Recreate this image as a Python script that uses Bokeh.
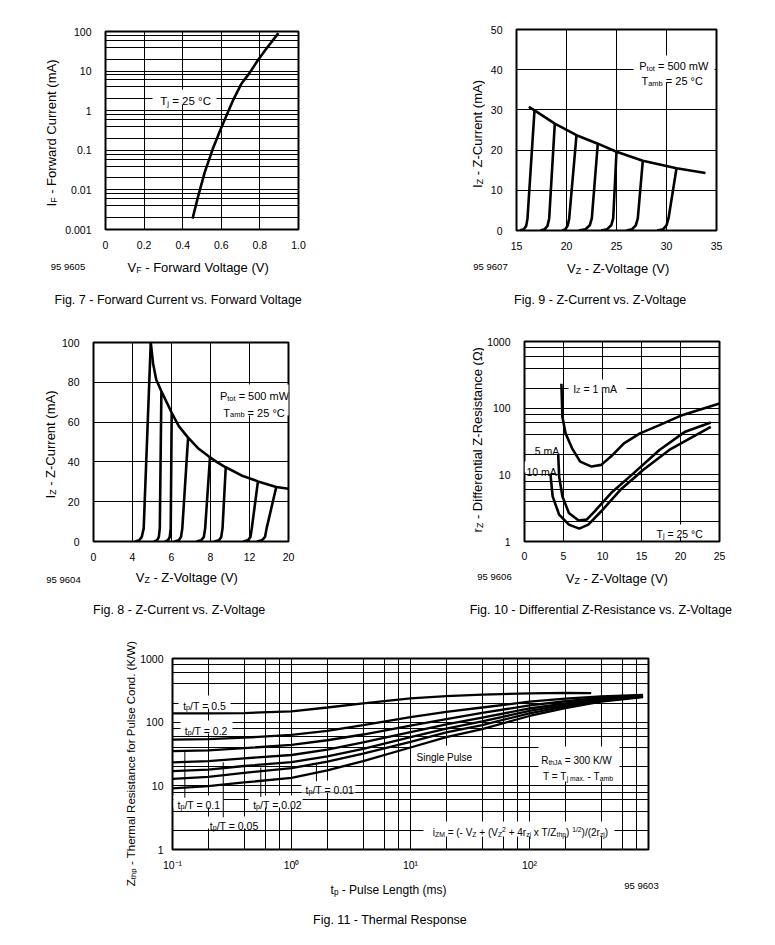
import math
import numpy as np
from bokeh.plotting import figure
from bokeh.models import Range1d, FixedTicker, Label, BoxAnnotation
from bokeh.layouts import column, row
from bokeh.embed import file_html
from bokeh.resources import INLINE

FONT = "Liberation Sans"

# ---------------- data ----------------
# Fig. 7  Forward current vs forward voltage
F7_XTICKS = [0, 0.2, 0.4, 0.6, 0.8, 1.0]
F7_XLABELS = ["0", "0.2", "0.4", "0.6", "0.8", "1.0"]
F7_YTICKS = [0.001, 0.01, 0.1, 1, 10, 100]
F7_YLABELS = ["0.001", "0.01", "0.1", "1", "10", "100"]
F7_VF = [0.451, 0.481, 0.514, 0.555, 0.596, 0.662, 0.703, 0.745, 0.786, 0.827, 0.896]
F7_IF = [0.00188, 0.0072, 0.0277, 0.106, 0.335, 1.88, 4.7, 8.75, 17.8, 33.5, 91]

# Fig. 9  Z-current vs Z-voltage (15..35 V)
F9_XTICKS = [15, 20, 25, 30, 35]
F9_YTICKS = [0, 10, 20, 30, 40, 50]
F9_ENV_V = [16.23, 16.8, 18.83, 21.0, 23.13, 25.0, 27.63, 31.0, 33.9]
F9_ENV_I = [30.75, 29.9, 26.6, 23.7, 21.6, 19.6, 17.35, 15.5, 14.3]
F9_CURVES_V = [
    [15.33, 15.73, 15.97, 16.10, 16.80],
    [17.40, 17.83, 18.10, 18.27, 18.83],
    [19.57, 19.90, 20.13, 20.27, 21.00],
    [21.23, 21.90, 22.33, 22.53, 23.13],
    [23.47, 24.07, 24.47, 24.67, 25.00],
    [26.00, 26.57, 26.93, 27.13, 27.63],
    [29.07, 29.67, 30.00, 30.20, 31.00],
]
F9_CURVES_I = [
    [0, 0.33, 1.15, 3.0, 29.9],
    [0, 0.33, 1.15, 3.0, 26.6],
    [0, 0.33, 1.3, 3.0, 23.7],
    [0, 0.33, 1.3, 3.0, 21.6],
    [0, 0.33, 1.3, 3.0, 19.6],
    [0, 0.33, 1.3, 3.0, 17.35],
    [0, 0.33, 1.3, 3.0, 15.5],
]

# Fig. 8  Z-current vs Z-voltage (0..20 V, unevenly labelled axis)
F8_XTICK_V = [0, 4, 6, 8, 12, 20]
F8_YTICKS = [0, 20, 40, 60, 80, 100]
F8_ENV_V = [4.937, 5.053, 5.218, 5.482, 6.01, 6.373, 6.851, 7.36, 7.974, 8.71, 9.564, 11.18, 13.73, 17.49, 20.0]
F8_ENV_I = [100, 89.6, 81.3, 75.5, 64.7, 58.0, 52.2, 46.9, 42.3, 39.8, 37.3, 33.2, 30.2, 27.4, 26.5]
F8_CURVES_V = [
    [4.146, 4.343, 4.475, 4.574, 4.937],
    [5.102, 5.267, 5.350, 5.400, 5.482],
    [5.663, 5.828, 5.911, 5.960, 6.010],
    [6.158, 6.373, 6.488, 6.554, 6.851],
    [7.280, 7.528, 7.660, 7.726, 7.974],
    [8.376, 8.871, 9.100, 9.234, 9.564],
    [11.35, 11.84, 12.21, 12.47, 13.73],
    [13.53, 14.59, 15.18, 15.51, 17.49],
]
F8_CURVES_I = [
    [0, 0.66, 2.3, 6.6, 100],
    [0, 0.66, 2.3, 6.6, 75.5],
    [0, 0.66, 2.3, 6.6, 64.7],
    [0, 0.66, 2.3, 6.6, 52.2],
    [0, 0.66, 2.3, 6.6, 42.3],
    [0, 0.66, 2.3, 6.6, 37.3],
    [0, 0.66, 2.3, 6.6, 30.2],
    [0, 0.66, 2.3, 6.6, 27.4],
]

# Fig. 10  Differential Z-resistance vs Z-voltage
F10_XTICKS = [0, 5, 10, 15, 20, 25]
F10_YTICKS = [1, 10, 100, 1000]
F10_1MA_V = [4.73, 4.86, 5.27, 6.1, 7.14, 8.6, 9.84, 11.3, 12.75, 14.8, 17.3, 20.2, 25.0]
F10_1MA_R = [233, 74, 41.8, 25, 15.8, 13.3, 14.1, 19.9, 29.7, 41.9, 55.7, 78.6, 117.6]
F10_5MA_V = [4.32, 4.44, 4.86, 5.69, 6.94, 7.97, 9.0, 11.1, 14.0, 17.3, 20.6, 23.88]
F10_5MA_R = [20.6, 9.4, 4.75, 2.68, 2.06, 2.13, 2.84, 5.33, 10.6, 23.6, 44.4, 61]
F10_10MA_V = [3.32, 3.61, 4.44, 5.69, 7.02, 8.18, 9.84, 12.3, 15.24, 18.56, 23.88]
F10_10MA_R = [10.4, 4.75, 2.53, 1.79, 1.56, 1.79, 2.84, 5.97, 11.9, 23.6, 52.6]

# Fig. 11  Thermal response
F11_XTICKS = [0.1, 1, 10, 100]
F11_XLABELS = ["10\u207b\u00b9", "10\u2070", "10\u00b9", "10\u00b2"]
F11_YTICKS = [1, 10, 100, 1000]
F11_T05 = [0.1, 0.2, 0.4, 1, 2, 4, 10, 20, 40, 100, 200, 330]
F11_Z05 = [137, 137, 139, 148, 170, 198, 236, 256, 270, 284, 288, 285]
F11_T = [0.1, 0.2, 0.4, 1, 2, 4, 10, 20, 40, 100, 200, 400, 900]
F11_Z02 = [53, 54, 57, 63, 73, 90, 120, 145, 170, 210, 235, 253, 268]
F11_Z01 = [35, 36, 39, 44, 52, 64, 88, 112, 140, 183, 213, 240, 264]
F11_Z005 = [23.4, 24.5, 27, 30.5, 37, 48, 70, 92, 118, 164, 198, 230, 260]
F11_Z002 = [17, 18, 20.5, 23.5, 29, 38, 58, 79, 103, 150, 187, 222, 256]
F11_Z001 = [12.9, 13.8, 16, 19, 24, 32, 49, 69, 90, 138, 177, 216, 252]
F11_ZSP = [9.1, 9.9, 11.3, 13.3, 17.5, 24.5, 40, 58, 78, 125, 166, 210, 248]
F11_LEAD_T = [0.127, 0.267, 0.552, 1.62]
F11_LEAD_Z0 = [34.2, 23.4, 19.4, 21.5]
F11_LEAD_Z1 = [6.5, 3.2, 6.7, 11.8]

# ---------------- helpers ----------------
CW = {' ': 278, '(': 333, ')': 333, '+': 584, ',': 278, '-': 333, '.': 278, '/': 278,
      '=': 584, '\u00b0': 400, '\u03a9': 768, '^': 469,
      'A': 667, 'B': 667, 'C': 722, 'D': 722, 'E': 667, 'F': 611, 'G': 778, 'H': 722,
      'I': 278, 'J': 500, 'K': 667, 'L': 556, 'M': 833, 'N': 722, 'O': 778, 'P': 667,
      'R': 722, 'S': 667, 'T': 611, 'U': 722, 'V': 667, 'W': 944, 'X': 667, 'Y': 667, 'Z': 611,
      'a': 556, 'b': 556, 'c': 500, 'd': 556, 'e': 556, 'f': 278, 'g': 556, 'h': 556,
      'i': 222, 'j': 222, 'k': 500, 'l': 222, 'm': 833, 'n': 556, 'o': 556, 'p': 556,
      'r': 333, 's': 500, 't': 278, 'u': 556, 'v': 500, 'w': 722, 'x': 500, 'y': 500, 'z': 500}


def tw(s, size):
    return sum(CW.get(c, 556) for c in s) * size / 1000.0


def rich(p, x, y, runs, size, align="left", angle=0.0, shift=0.0):
    """Place a run of normal/sub/sup text pieces, in frame-relative screen units."""
    sizes = [size * (0.68 if k else 1.0) for _, k in runs]
    widths = [tw(t, s) for (t, _), s in zip(runs, sizes)]
    total = sum(widths)
    off = {"left": 0.0, "center": -total / 2.0, "right": -total}[align]
    ca, sa = math.cos(angle), math.sin(angle)
    for (t, k), s, w in zip(runs, sizes, widths):
        st = t.lstrip(" ")
        lead = tw(t[: len(t) - len(st)], s)
        st = st.rstrip(" ")
        if st:
            dy = shift + (-0.2 * size if k == "sub" else (0.38 * size if k == "sup" else 0.0))
            a = off + lead
            p.add_layout(Label(x=x, y=y, x_units="screen", y_units="screen",
                               x_offset=a * ca - dy * sa, y_offset=a * sa + dy * ca,
                               text=st, angle=angle, text_font=FONT,
                               text_font_size=f"{s:.2f}px", text_color="black",
                               text_align="left", text_baseline="alphabetic"))
        off += w


def wbox(p, l, r, b, t):
    p.add_layout(BoxAnnotation(left=l, right=r, bottom=b, top=t,
                               left_units="screen", right_units="screen",
                               top_units="screen", bottom_units="screen",
                               fill_color="white", fill_alpha=1.0, line_color=None,
                               level="underlay"))


def log_grid(lo, hi):
    out = []
    for e in range(lo, hi):
        for m in (1, 2, 4, 6, 8):
            out.append(m * 10.0 ** e)
    out.append(10.0 ** hi)
    return out


def make_fig(w, h, bl, br, bt, bb, xr, yr, xlog=False, ylog=False):
    p = figure(width=w, height=h, x_range=Range1d(*xr), y_range=Range1d(*yr),
               x_axis_type="log" if xlog else "linear",
               y_axis_type="log" if ylog else "linear",
               output_backend="svg", toolbar_location=None,
               min_border_left=bl, min_border_right=br,
               min_border_top=bt, min_border_bottom=bb, frame_align=False)
    p.outline_line_color = "black"
    p.outline_line_width = 2
    p.background_fill_color = "white"
    p.border_fill_color = "white"
    for ax in (p.xaxis[0], p.yaxis[0]):
        ax.axis_line_color = None
        ax.major_tick_line_color = None
        ax.minor_tick_line_color = None
        ax.major_label_text_font = FONT
        ax.major_label_text_font_size = "10.5px"
        ax.major_label_text_color = "black"
    for g in (p.xgrid[0], p.ygrid[0]):
        g.grid_line_color = "black"
        g.grid_line_width = 1
        g.grid_line_alpha = 1.0
    return p


def strip(w, h):
    s = figure(width=w, height=h, x_range=Range1d(0, 1), y_range=Range1d(0, 1),
               output_backend="svg", toolbar_location=None, min_border=0,
               x_axis_location=None, y_axis_location=None, frame_align=False)
    s.outline_line_color = None
    s.xgrid.visible = False
    s.ygrid.visible = False
    s.background_fill_color = "white"
    s.border_fill_color = "white"
    return s


def ytitle(s, x, y, runs, size=13.0):
    rich(s, x, y, runs, size, align="center", angle=math.pi / 2)


def bottom_texts(s, xt, xc, xb, code, cc, cb, cap, capc, capb, tsize=13.0):
    rich(s, xc, xb, xt, tsize, align="center")
    rich(s, cc, cb, [(code, "")], 9.5, align="center")
    rich(s, capc, capb, [(cap, "")], 12.5, align="center")


LW = 2.6

# ---------------- Fig 7 ----------------
f7 = make_fig(326, 251, 34, 90, 31, 20, (0, 1.0), (0.001, 100), ylog=True)
f7.xaxis.ticker = FixedTicker(ticks=F7_XTICKS)
f7.xaxis.major_label_overrides = dict(zip(F7_XTICKS, F7_XLABELS))
f7.yaxis.ticker = FixedTicker(ticks=F7_YTICKS)
f7.yaxis.major_label_overrides = dict(zip(F7_YTICKS, F7_YLABELS))
f7.xaxis.major_label_standoff = 5
f7.yaxis.major_label_standoff = 8
f7.xgrid.ticker = FixedTicker(ticks=F7_XTICKS)
f7.ygrid.ticker = FixedTicker(ticks=log_grid(-3, 2))
wbox(f7, 47, 111, 125, 140)
f7.line(F7_VF, F7_IF, line_color="black", line_width=LW)
rich(f7, 54.7, 132.7, [("T", ""), ("j", "sub"), (" = 25 \u00b0C", "")], 11.5, shift=-4.1)
ls7 = strip(62, 251)
ytitle(ls7, 51, 118.5, [("I", ""), ("F", "sub"), (" - Forward Current (mA)", "")])
bs7 = strip(388, 61)
bottom_texts(bs7, [("V", ""), ("F", "sub"), (" - Forward Voltage (V)", "")], 198, 45.3,
             "95 9605", 67.5, 45.6, "Fig. 7 - Forward Current vs. Forward Voltage", 178, 12.5)
block7 = column(row(ls7, f7), bs7)

# ---------------- Fig 9 ----------------
f9 = make_fig(289, 252, 31, 58, 29, 20, (15, 35), (0, 50))
f9.xaxis.ticker = FixedTicker(ticks=F9_XTICKS)
f9.yaxis.ticker = FixedTicker(ticks=F9_YTICKS)
f9.xaxis.major_label_standoff = 5
f9.yaxis.major_label_standoff = 8
f9.xgrid.ticker = FixedTicker(ticks=F9_XTICKS)
f9.ygrid.ticker = FixedTicker(ticks=F9_YTICKS)
wbox(f9, 117, 198, 148, 175)
f9.line(F9_ENV_V, F9_ENV_I, line_color="black", line_width=LW)
for cv, ci in zip(F9_CURVES_V, F9_CURVES_I):
    f9.line(cv, ci, line_color="black", line_width=LW)
rich(f9, 157.3, 168.7, [("P", ""), ("tot", "sub"), (" = 500 mW", "")], 11, align="center", shift=-4)
rich(f9, 155.7, 153.7, [("T", ""), ("amb", "sub"), (" = 25 \u00b0C", "")], 11, align="center", shift=-4)
ls9 = strip(97, 252)
ytitle(ls9, 88.7, 118.5, [("I", ""), ("Z", "sub"), (" - Z-Current (mA)", "")])
bs9 = strip(386, 60)
bottom_texts(bs9, [("V", ""), ("Z", "sub"), (" - Z-Voltage (V)", "")], 230, 43.7,
             "95 9607", 102, 45.6, "Fig. 9 - Z-Current vs. Z-Voltage", 212, 12.5)
block9 = column(row(ls9, f9), bs9)

# ---------------- Fig 8 ----------------
def f8x(v):
    return np.interp(v, F8_XTICK_V, list(range(len(F8_XTICK_V)))).tolist()

f8 = make_fig(330, 251, 29, 100, 30, 20, (0, 5), (0, 100))
f8_pos = list(range(len(F8_XTICK_V)))
f8.xaxis.ticker = FixedTicker(ticks=f8_pos)
f8.xaxis.major_label_overrides = {i: str(v) for i, v in zip(f8_pos, F8_XTICK_V)}
f8.yaxis.ticker = FixedTicker(ticks=F8_YTICKS)
f8.xaxis.major_label_standoff = 5
f8.yaxis.major_label_standoff = 8
f8.xgrid.ticker = FixedTicker(ticks=f8_pos)
f8.ygrid.ticker = FixedTicker(ticks=F8_YTICKS)
wbox(f8, 124, 201, 126, 157)
f8.line(f8x(F8_ENV_V), F8_ENV_I, line_color="black", line_width=LW)
for cv, ci in zip(F8_CURVES_V, F8_CURVES_I):
    f8.line(f8x(cv), ci, line_color="black", line_width=LW)
rich(f8, 161, 149.7, [("P", ""), ("tot", "sub"), (" = 500 mW", "")], 11, align="center", shift=-4)
rich(f8, 160.5, 133, [("T", ""), ("amb", "sub"), (" = 25 \u00b0C", "")], 11, align="center", shift=-4)
ls8 = strip(58, 251)
ytitle(ls8, 50, 119, [("I", ""), ("Z", "sub"), (" - Z-Current (mA)", "")])
bs8 = strip(388, 64)
bottom_texts(bs8, [("V", ""), ("Z", "sub"), (" - Z-Voltage (V)", "")], 186.7, 50.3,
             "95 9604", 63, 47.6, "Fig. 8 - Z-Current vs. Z-Voltage", 179, 17.5)
block8 = column(row(ls8, f8), bs8)

# ---------------- Fig 10 ----------------
f10 = make_fig(290, 250, 34, 55, 29, 20, (0, 25), (1, 1000), ylog=True)
f10.xaxis.ticker = FixedTicker(ticks=F10_XTICKS)
f10.yaxis.ticker = FixedTicker(ticks=F10_YTICKS)
f10.yaxis.major_label_overrides = {1: "1", 10: "10", 100: "100", 1000: "1000"}
f10.xaxis.major_label_standoff = 4
f10.yaxis.major_label_standoff = 8
f10.xgrid.ticker = FixedTicker(ticks=F10_XTICKS)
f10.ygrid.ticker = FixedTicker(ticks=log_grid(0, 3))
wbox(f10, 44, 102, 150, 162)
wbox(f10, 7, 35, 88, 100)
wbox(f10, 0, 36, 69, 80)
wbox(f10, 128, 188, 5, 17)
for v, r in ((F10_1MA_V, F10_1MA_R), (F10_5MA_V, F10_5MA_R), (F10_10MA_V, F10_10MA_R)):
    f10.line(v, r, line_color="black", line_width=LW)
rich(f10, 48.7, 156, [("I", ""), ("Z", "sub"), (" = 1 mA", "")], 10.5, shift=-3.8)
rich(f10, 10.3, 94.3, [("5 mA", "")], 10.5, shift=-3.8)
rich(f10, 2, 73, [("10 mA", "")], 10.5, shift=-3.8)
rich(f10, 132, 11, [("T", ""), ("j", "sub"), (" = 25 \u00b0C", "")], 10.5, shift=-3.8)
ls10 = strip(96, 250)
ytitle(ls10, 88.7, 123, [("r", ""), ("Z", "sub"), (" - Differential Z-Resistance (\u03a9)", "")])
bs10 = strip(386, 65)
bottom_texts(bs10, [("V", ""), ("Z", "sub"), (" - Z-Voltage (V)", "")], 228.7, 48.7,
             "95 9606", 106, 50.6, "Fig. 10 - Differential Z-Resistance vs. Z-Voltage", 212.8, 17.5)
block10 = column(row(ls10, f10), bs10)

# ---------------- Fig 11 ----------------
f11 = make_fig(637, 246, 34, 126, 31, 20, (0.1, 1000), (1, 1000), xlog=True, ylog=True)
f11.xaxis.ticker = FixedTicker(ticks=F11_XTICKS)
f11.xaxis.major_label_overrides = dict(zip(F11_XTICKS, F11_XLABELS))
f11.yaxis.ticker = FixedTicker(ticks=F11_YTICKS)
f11.yaxis.major_label_overrides = {1: "1", 10: "10", 100: "100", 1000: "1000"}
f11.xaxis.major_label_standoff = 3
f11.yaxis.major_label_standoff = 3
f11.xgrid.ticker = FixedTicker(ticks=log_grid(-1, 3))
f11.ygrid.ticker = FixedTicker(ticks=log_grid(0, 3))
for box in ((6, 58, 141, 154), (8, 60, 116, 129), (1, 51, 42, 54), (33, 86, 21, 33),
            (76, 130, 42, 54), (129, 183, 57, 69), (240, 309, 87, 104),
            (366, 447, 68, 103), (251, 442, 13, 28)):
    wbox(f11, *box)
f11.segment(F11_LEAD_T, F11_LEAD_Z0, F11_LEAD_T, F11_LEAD_Z1, line_color="black", line_width=1)
f11.line(F11_T05, F11_Z05, line_color="black", line_width=2.3)
for z in (F11_Z02, F11_Z01, F11_Z005, F11_Z002, F11_Z001, F11_ZSP):
    f11.line(F11_T, z, line_color="black", line_width=2.3)
TP = 10.5
rich(f11, 10.7, 147.3, [("t", ""), ("p", "sub"), ("/T = 0.5", "")], TP, shift=-3.8)
rich(f11, 12.3, 122, [("t", ""), ("p", "sub"), ("/T = 0.2", "")], TP, shift=-3.8)
rich(f11, 5, 48, [("t", ""), ("p", "sub"), ("/T = 0.1", "")], TP, shift=-3.8)
rich(f11, 37.3, 27.3, [("t", ""), ("p", "sub"), ("/T = 0.05", "")], TP, shift=-3.8)
rich(f11, 80.7, 48, [("t", ""), ("p", "sub"), ("/T = 0.02", "")], TP, shift=-3.8)
rich(f11, 133, 63, [("t", ""), ("p", "sub"), ("/T = 0.01", "")], TP, shift=-3.8)
rich(f11, 244, 95.7, [("Single Pulse", "")], 10, shift=-3.6)
rich(f11, 404, 93, [("R", ""), ("thJA", "sub"), (" = 300 K/W", "")], 10, align="center", shift=-3.6)
rich(f11, 405.5, 77, [("T = T", ""), ("j max.", "sub"), (" - T", ""), ("amb", "sub")], 10,
     align="center", shift=-3.6)
rich(f11, 348, 20.3, [("i", ""), ("ZM", "sub"), (" = (- V", ""), ("Z", "sub"), (" + (V", ""),
                      ("Z", "sub"), ("2", "sup"), (" + 4r", ""), ("zj", "sub"), (" x T/Z", ""),
                      ("thp", "sub"), (") ", ""), ("1/2", "sup"), (")/(2r", ""), ("zj", "sub"),
                      (")", "")], 10, align="center", shift=-3.6)
ls11 = strip(137, 317)
ytitle(ls11, 130.7, 181, [("Z", ""), ("thp", "sub"),
                          (" - Thermal Resistance for Pulse Cond. (K/W)", "")], 11.5)
bs11 = strip(637, 71)
bottom_texts(bs11, [("t", ""), ("p", "sub"), (" - Pulse Length (ms)", "")], 251, 54.7,
             "95 9603", 504, 58.8, "Fig. 11 - Thermal Response", 253, 24.5, tsize=12)
block11 = row(ls11, column(f11, bs11))

layout = column(row(block7, block9), row(block8, block10), block11)
open("out.html", "w").write(file_html(layout, INLINE))
